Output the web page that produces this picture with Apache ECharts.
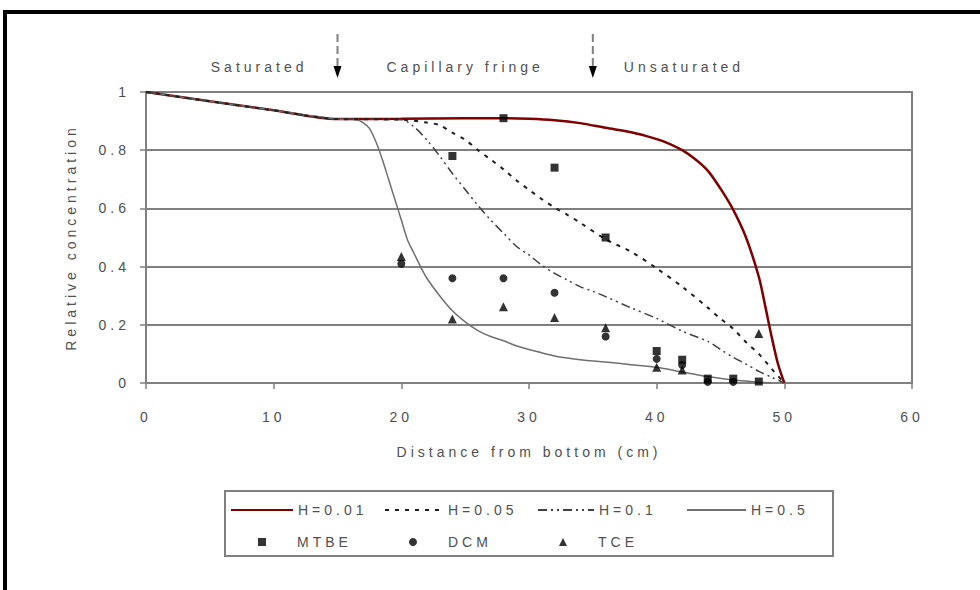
<!DOCTYPE html>
<html>
<head>
<meta charset="utf-8">
<script src="https://cdn.jsdelivr.net/npm/echarts@6/dist/echarts.min.js"></script>
<style>
  html, body { margin: 0; padding: 0; background: #fff; }
  #chart { width: 980px; height: 590px; }
  #chart text { letter-spacing: 4px; }
</style>
</head>
<body>
<div id="chart"></div>
<script>
// model curves
const xH001 = [0, 5, 10, 15, 20, 25, 28, 30, 32, 34, 36, 38, 39, 40, 41, 42, 43, 44, 45, 46, 47, 48, 48.5, 49, 49.5, 50]
const yH001 = [1, 0.968, 0.937, 0.907, 0.908, 0.91, 0.91, 0.908, 0.903, 0.893, 0.877, 0.862, 0.851, 0.838, 0.822, 0.8, 0.77, 0.73, 0.668, 0.595, 0.5, 0.365, 0.265, 0.16, 0.066, 0]

const xH005 = [0, 5, 10, 15, 20, 22, 23, 24, 25, 26, 27, 28, 29, 30, 31, 32, 33, 34, 36, 38, 40, 42, 44, 45, 46, 47, 48, 49, 50]
const yH005 = [1, 0.968, 0.937, 0.907, 0.905, 0.895, 0.886, 0.86, 0.836, 0.8, 0.768, 0.734, 0.697, 0.664, 0.632, 0.603, 0.578, 0.551, 0.494, 0.451, 0.394, 0.331, 0.259, 0.221, 0.186, 0.14, 0.1, 0.049, 0]

const xH01 = [0, 5, 10, 15, 20, 21, 22, 23, 24, 25, 26, 27, 28, 29, 30, 31, 32, 33, 34, 35, 36, 38, 40, 42, 44, 45, 46, 47, 48, 49, 50]
const yH01 = [1, 0.968, 0.937, 0.907, 0.905, 0.88, 0.835, 0.78, 0.72, 0.665, 0.61, 0.56, 0.515, 0.47, 0.44, 0.405, 0.377, 0.354, 0.331, 0.315, 0.297, 0.258, 0.222, 0.178, 0.143, 0.115, 0.088, 0.065, 0.04, 0.02, 0]

const xH05 = [0, 5, 10, 15, 16.5, 17, 17.5, 18, 18.5, 19, 19.5, 20, 20.5, 21, 21.5, 22, 23, 24, 25, 26, 27, 28, 29, 30, 32, 34, 36, 38, 40, 42, 44, 46, 48, 49]
const yH05 = [1, 0.968, 0.937, 0.907, 0.905, 0.895, 0.875, 0.83, 0.77, 0.7, 0.63, 0.56, 0.49, 0.445, 0.4, 0.36, 0.3, 0.248, 0.21, 0.18, 0.16, 0.145, 0.128, 0.115, 0.093, 0.08, 0.072, 0.063, 0.054, 0.038, 0.022, 0.01, 0.003, 0]

// measured concentrations
const xMTBE = [24, 28, 32, 36, 40, 42, 44, 46, 48]
const yMTBE = [0.78, 0.91, 0.74, 0.5, 0.11, 0.08, 0.015, 0.015, 0.005]
const xDCM = [20, 24, 28, 32, 36, 40, 42, 44, 46]
const yDCM = [0.41, 0.36, 0.36, 0.31, 0.16, 0.083, 0.062, 0.004, 0.004]
const xTCE = [20, 24, 28, 32, 36, 40, 42, 48]
const yTCE = [0.435, 0.22, 0.262, 0.225, 0.19, 0.054, 0.045, 0.17]

const xTicks = { min: 0, max: 60, interval: 10 }
const yTicks = { min: 0, max: 1, interval: 0.2 }
const zoneBounds = [15, 35]
const zoneLabels = ['Saturated', 'Capillary fringe', 'Unsaturated']

const FONT = '"Liberation Sans", Arial, sans-serif'
const TEXT = '#505050'
const GRID = '#808080'

const zip = (xs, ys) => xs.map((x, i) => [x, ys[i]])

const modelLine = (name, xs, ys, color, width, type) => ({
  name, type: 'line', data: zip(xs, ys), symbol: 'none', smooth: 0.3,
  lineStyle: { color, width, type }, itemStyle: { color }, z: 2
})
const measured = (name, xs, ys, symbol, size) => ({
  name, type: 'scatter', data: zip(xs, ys), symbol, symbolSize: size,
  itemStyle: { color: '#000' }, z: 5
})

const legendText = { color: TEXT, fontSize: 14, fontFamily: FONT }
// line keys: hide the symbol, keep the stroke
const lineKey = (name, left, width) => ({
  data: [name], left, top: 503, itemWidth: width, itemHeight: 14, padding: 0,
  selectedMode: false, itemStyle: { opacity: 0 }, textStyle: legendText
})
// marker keys: square icon box, text pushed right
const markerKey = (name, left, size) => ({
  data: [name], left, top: 535, itemWidth: size, itemHeight: size, padding: 0,
  selectedMode: false, textStyle: { ...legendText, padding: [0, 0, 0, 26] }
})

const chart = echarts.init(document.getElementById('chart'), null, { renderer: 'svg' })

chart.setOption({
  backgroundColor: '#fff',
  animation: false,
  textStyle: { fontFamily: FONT },
  grid: { left: 146, right: 68, top: 92, bottom: 207, show: true, borderColor: GRID, borderWidth: 2 },
  xAxis: {
    type: 'value', ...xTicks,
    name: 'Distance from bottom (cm)', nameLocation: 'middle', nameGap: 62,
    nameTextStyle: { color: TEXT, fontSize: 14, fontFamily: FONT },
    axisLine: { show: true, onZero: false, lineStyle: { color: GRID, width: 2 } },
    axisTick: { show: true, inside: false, length: 6, lineStyle: { color: GRID, width: 1.5 } },
    axisLabel: { color: TEXT, fontSize: 14, margin: 27, fontFamily: FONT },
    splitLine: { show: false }
  },
  yAxis: {
    type: 'value', ...yTicks,
    name: 'Relative concentration', nameLocation: 'middle', nameGap: 68,
    nameTextStyle: { color: TEXT, fontSize: 14, fontFamily: FONT },
    axisLine: { show: true, lineStyle: { color: GRID, width: 2 } },
    axisTick: { show: true, inside: false, length: 6, lineStyle: { color: GRID, width: 1.5 } },
    axisLabel: { color: TEXT, fontSize: 14, margin: 16, fontFamily: FONT },
    splitLine: { show: true, lineStyle: { color: GRID, width: 2 } }
  },
  legend: [
    lineKey('H=0.01', 230, 62),
    lineKey('H=0.05', 384, 58),
    lineKey('H=0.1', 537, 56),
    lineKey('H=0.5', 686, 59),
    markerKey('MTBE', 258, 8),
    markerKey('DCM', 409, 8),
    markerKey('TCE', 559, 8)
  ],
  series: [
    modelLine('H=0.01', xH001, yH001, '#800000', 2.5, 'solid'),
    modelLine('H=0.5', xH05, yH05, '#707070', 1.5, 'solid'),
    modelLine('H=0.1', xH01, yH01, '#404040', 1.5, [9, 4, 2, 4, 2, 4]),
    modelLine('H=0.05', xH005, yH005, '#202020', 2, [4, 6]),
    measured('MTBE', xMTBE, yMTBE, 'rect', 8),
    measured('DCM', xDCM, yDCM, 'circle', 8),
    measured('TCE', xTCE, yTCE, 'triangle', 9)
  ]
})

// zone arrows and labels above the plot, placed from the x axis
const px = v => chart.convertToPixel({ gridIndex: 0 }, [v, 1])[0]
const [b1, b2] = zoneBounds.map(px)
const zoneFont = '14px ' + FONT
const arrow = x => ({
  type: 'group',
  children: [
    { type: 'line', shape: { x1: x, y1: 34, x2: x, y2: 68 }, style: { stroke: GRID, lineWidth: 2, lineDash: [8, 4] } },
    { type: 'polygon', shape: { points: [[x - 4, 66], [x + 4, 66], [x, 78]] }, style: { fill: '#000' } }
  ]
})

chart.setOption({
  graphic: [
    { type: 'rect', shape: { x: 5, y: 12, width: 1000, height: 600 }, style: { fill: 'none', stroke: '#000', lineWidth: 4 }, silent: true },
    { type: 'rect', shape: { x: 225, y: 491, width: 608, height: 65 }, style: { fill: 'none', stroke: GRID, lineWidth: 2 }, silent: true },
    arrow(b1),
    arrow(b2),
    { type: 'text', x: b1 - 30, y: 67, style: { text: zoneLabels[0], font: zoneFont, fill: TEXT, align: 'right', verticalAlign: 'middle' } },
    { type: 'text', x: (b1 + b2) / 2, y: 67, style: { text: zoneLabels[1], font: zoneFont, fill: TEXT, align: 'center', verticalAlign: 'middle' } },
    { type: 'text', x: b2 + 31, y: 67, style: { text: zoneLabels[2], font: zoneFont, fill: TEXT, align: 'left', verticalAlign: 'middle' } }
  ]
})
</script>
</body>
</html>
